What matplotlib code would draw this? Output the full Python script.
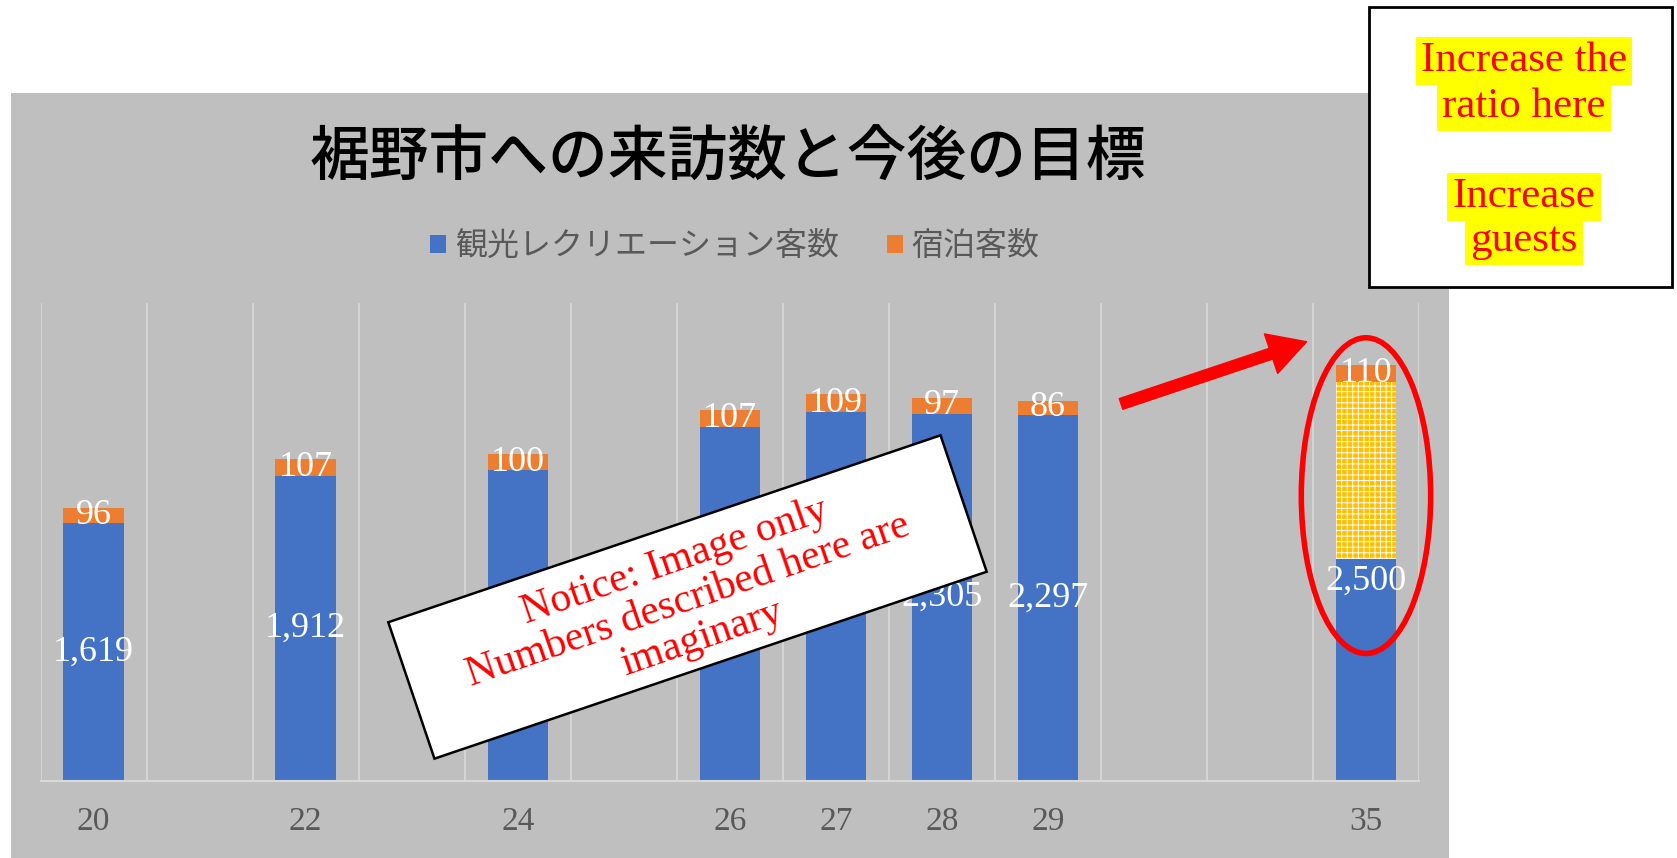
import numpy as np
import matplotlib
matplotlib.use("Agg")
import matplotlib.pyplot as plt
from matplotlib.patches import Rectangle, Ellipse, FancyArrowPatch, Patch

# ---------------- data ----------------
categories = ["20", "", "22", "", "24", "", "26", "27", "28", "29", "", "", "35"]
tourists = [1619, np.nan, 1912, np.nan, 1950, np.nan, 2219, 2316, 2305, 2297, np.nan, np.nan, 2500]
overnight = [96, np.nan, 107, np.nan, 100, np.nan, 107, 109, 97, 86, np.nan, np.nan, 110]
series_names = ["観光レクリエーション客数", "宿泊客数"]
title = "裾野市への来訪数と今後の目標"
target_index = 12          # the goal bar ("35")
target_increase_from = 1390  # lower edge of the highlighted growth part
notice_lines = ["Notice: Image only", "Numbers described here are", "imaginary"]
box_lines = ["Increase the", "ratio here", "Increase", "guests"]

# ---------------- style ----------------
BLUE = "#4472C4"
ORANGE = "#ED7D31"
PANEL = "#BFBFBF"
GRID = "#D9D9D9"
TXT = "#595959"
JP = ["Noto Sans CJK JP", "DejaVu Sans"]
SERIF = ["Liberation Serif", "DejaVu Serif"]
plt.rcParams["hatch.color"] = "white"
plt.rcParams["hatch.linewidth"] = 0.7

W, H = 1677, 858
fig = plt.figure(figsize=(W / 100, H / 100), dpi=100)

# gray chart panel
fig.patches.append(Rectangle((10.7 / W, 0), (1449 - 10.7) / W, 1 - 93 / H,
                             transform=fig.transFigure, facecolor=PANEL,
                             edgecolor="none", zorder=-1))

ax = fig.add_axes([40.6 / W, 1 - 781 / H, (1419 - 40.6) / W, (781 - 302.7) / H])
ax.set_facecolor("none")

x = np.arange(len(categories))
blue = np.array(tourists, dtype=float)
orange = np.array(overnight, dtype=float)
bw = 0.57
ax.bar(x, blue, width=bw, color=BLUE, zorder=1)
ax.bar(x, orange, width=bw, bottom=blue, color=ORANGE, zorder=1)

# highlighted growth part of the goal bar
ax.bar(x[target_index], blue[target_index] - target_increase_from, width=bw,
       bottom=target_increase_from, facecolor="#FFC000", edgecolor="white",
       hatch="+++", linewidth=0, zorder=2)

# data labels
for xi, b, o in zip(x, blue, orange):
    if np.isnan(b):
        continue
    ax.text(xi, b / 2, f"{int(b):,}", ha="center", va="center", color="white",
            fontsize=26, family=SERIF, zorder=3)
    ax.text(xi, b + o / 2, f"{int(o):,}", ha="center", va="center", color="white",
            fontsize=26, family=SERIF, zorder=3)

ax.set_xlim(-0.5, len(categories) - 0.5)
ax.set_ylim(0, 3000)
ax.set_yticks([])
ax.set_xticks(x)
ax.set_xticklabels(categories, fontsize=24, color=TXT, family=SERIF)
ax.tick_params(axis="x", length=0, pad=18)
ax.set_xticks(np.arange(-0.5, len(categories), 1.0), minor=True)
ax.tick_params(axis="x", which="minor", length=0)
ax.grid(True, which="minor", axis="x", color=GRID, linewidth=1.2, zorder=0)
ax.set_axisbelow(True)
for s in ["top", "left", "right"]:
    ax.spines[s].set_visible(False)
ax.spines["bottom"].set_color(GRID)
ax.spines["bottom"].set_linewidth(1.5)

# red ellipse around goal bar
ax.add_patch(Ellipse((x[target_index], 1790), width=1.22, height=1980, fill=False,
                     edgecolor="red", linewidth=4, zorder=4, clip_on=False))
# red arrow
ax.add_patch(FancyArrowPatch((9.69, 2365), (11.44, 2755),
                             arrowstyle="simple,head_length=0.9,head_width=1.0,tail_width=0.27",
                             mutation_scale=30, color="red", zorder=4, clip_on=False,
                             shrinkA=0, shrinkB=0))

# title & legend
fig.text(727.6 / W, 1 - 158 / H, title, ha="center", va="center", fontsize=43,
         family=JP, color="black", fontweight="medium")
handles = [Patch(facecolor=BLUE, edgecolor="none"), Patch(facecolor=ORANGE, edgecolor="none")]
fig.legend(handles, series_names, loc="center", bbox_to_anchor=(735 / W, 1 - 246 / H),
           ncol=2, frameon=False, prop={"family": JP, "size": 23}, labelcolor=TXT,
           handlelength=0.5, handleheight=0.5, handletextpad=0.28, columnspacing=1.5)

# overlay axes in pixel coordinates (y up)
ov = fig.add_axes([0, 0, 1, 1], zorder=5)
ov.set_xlim(0, W)
ov.set_ylim(0, H)
ov.axis("off")
ov.patch.set_alpha(0)

# notice box
cx, cy = 687.5, H - 597
bwid, bhei, ang = 583, 144, 18.7
ov.add_patch(Rectangle((cx - bwid / 2, cy - bhei / 2), bwid, bhei, angle=ang,
                       rotation_point="center", facecolor="white", edgecolor="black",
                       linewidth=1.8))
ov.text(688, H - 600, "\n".join(notice_lines), ha="center", va="center",
        multialignment="center", rotation=19, rotation_mode="anchor", color="red",
        fontsize=30, family=SERIF, linespacing=1.08)

# right side message box
ov.add_patch(Rectangle((1369, H - 287), 303, 280, facecolor="white",
                       edgecolor="black", linewidth=2))
ys = [61, 107, 197, 241]
for line, yy in zip(box_lines, ys):
    ov.text(1524, H - yy, line, ha="center", va="center", color="red", fontsize=31,
            family=SERIF,
            bbox=dict(boxstyle="square,pad=0.12", facecolor="yellow", edgecolor="none"))

fig.savefig("out.png", dpi=100)
